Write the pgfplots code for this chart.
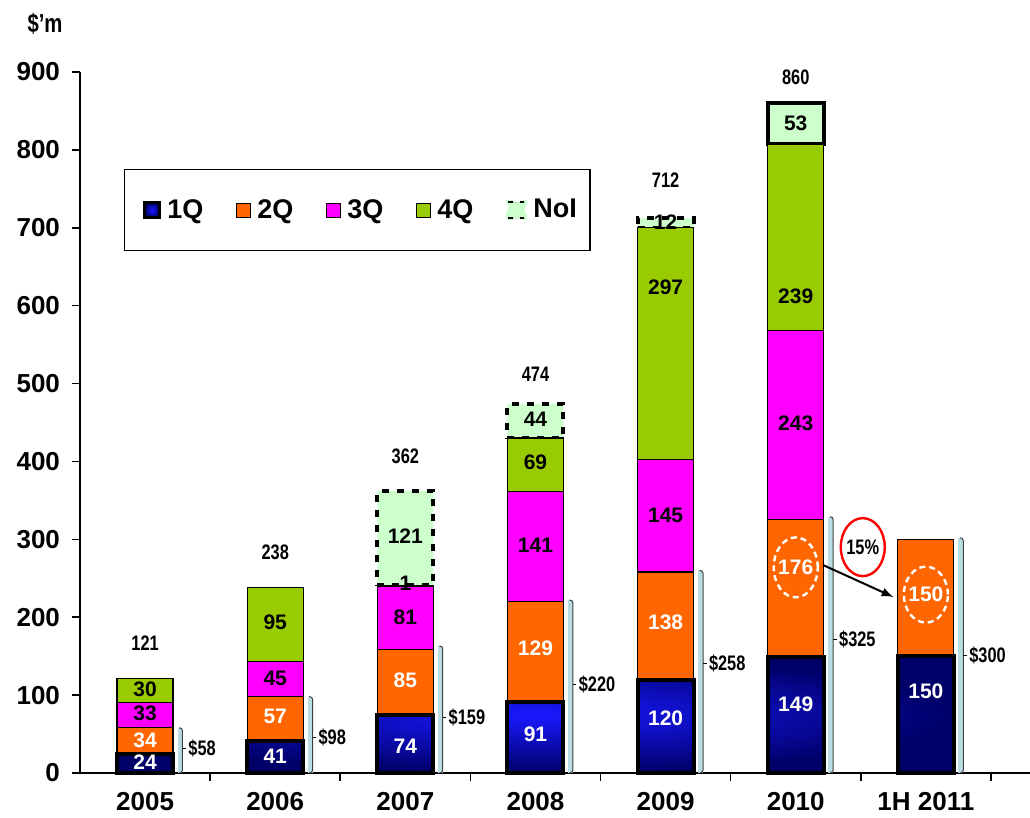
\documentclass[border=0pt]{standalone}
\usepackage{fontspec}
\setmainfont{Liberation Sans}
\newfontfamily\narrow[FakeStretch=0.78]{Liberation Sans}
\usepackage{pgfplots}
\pgfplotsset{compat=1.18}
\definecolor{qtwo}{RGB}{255,102,0}
\definecolor{qthree}{RGB}{255,0,255}
\definecolor{qfour}{RGB}{153,204,0}
\definecolor{noi}{RGB}{204,255,204}
\definecolor{qonein}{RGB}{25,25,255}
\definecolor{qoneout}{RGB}{0,0,105}
\definecolor{brk}{RGB}{184,222,228}
\tikzset{
  vw/.style={text=white, font=\bfseries\fontsize{10.5}{12}\selectfont, inner sep=0pt},
  vb/.style={text=black, font=\bfseries\fontsize{10.5}{12}\selectfont, inner sep=0pt},
  tot/.style={text=black, font=\narrow\bfseries\fontsize{10.5}{12}\selectfont, inner sep=0pt},
}
% bracket: #1 x, #2 top value, #3 label y, #4 label text
\newcommand{\brk}[4]{%
  \fill[brk] ([xshift=16.3pt]axis cs:#1,0) rectangle ([xshift=18.7pt]axis cs:#1,#2);
  \draw[black!75, line width=0.5pt, rounded corners=1.5pt] ([xshift=17pt]axis cs:#1,#2) -- ([xshift=18.7pt]axis cs:#1,#2) -- ([xshift=18.7pt]axis cs:#1,0) -- ([xshift=17pt]axis cs:#1,0);
  \draw[black, line width=0.5pt] ([xshift=18.7pt]axis cs:#1,#3) -- ([xshift=20.5pt]axis cs:#1,#3);
  \node[tot, anchor=west] at ([xshift=21.5pt]axis cs:#1,#3) {\$#4};
}
\pgfplotsset{samegeom/.style={scale only axis, width=475pt, height=350.5pt,
  xmin=-0.5, xmax=6.8, ymin=0, ymax=900, enlargelimits=false, clip=false}}
\begin{document}
\begin{tikzpicture}
\useasboundingbox (-40pt,-22.5pt) rectangle (475pt,386.5pt);
\begin{axis}[
  samegeom,
  axis lines=left, axis line style={-, line width=0.8pt},
  ybar stacked, bar width=28pt, stacked ignores zero,
  ytick={0,100,...,900},
  xtick={0.5,1.5,...,6.5}, xticklabels={},
  extra x ticks={0,1,2,3,4,5,6},
  extra x tick labels={2005,2006,2007,2008,2009,2010,1H 2011},
  extra x tick style={major tick length=0pt},
  tick align=outside, major tick length=4pt,
  tick style={black, line width=0.8pt},
  tick label style={font=\bfseries\fontsize{13}{15}\selectfont},
  /pgf/number format/assume math mode=true,
  yticklabel style={xshift=-2.5pt},
  xticklabel style={yshift=-6pt},
  legend columns=5,
  legend style={at={(axis description cs:0,1)}, anchor=north west, xshift=22pt, yshift=-48.5pt,
    draw=black, line width=0.6pt, inner xsep=3.5pt, inner ysep=12.8pt,
    font=\bfseries\fontsize{13.5}{15}\selectfont,
    nodes={inner xsep=3pt},
    /tikz/every even column/.append style={column sep=13.5pt}},
]
\addplot[draw=black, line width=2pt, inner color=qonein, outer color=qoneout,
  legend image code/.code={\path (-5.5pt,0pt); \draw[black,line width=1.6pt,inner color=qonein,outer color=qoneout] (0pt,-3.8pt) rectangle (7.6pt,3.8pt);}]
  coordinates {(0,24) (1,41) (2,74) (3,91) (4,120) (5,149) (6,150)};
\addlegendentry{1Q}
\addplot[draw=black, line width=0.6pt, fill=qtwo,
  legend image code/.code={\draw[black,line width=0.5pt,fill=qtwo] (0pt,-3.5pt) rectangle (7pt,3.5pt);}]
  coordinates {(0,34) (1,57) (2,85) (3,129) (4,138) (5,176) (6,150)};
\addlegendentry{2Q}
\addplot[draw=black, line width=0.6pt, fill=qthree,
  legend image code/.code={\draw[black,line width=0.5pt,fill=qthree] (0pt,-3.5pt) rectangle (7pt,3.5pt);}]
  coordinates {(0,33) (1,45) (2,81) (3,141) (4,145) (5,243) (6,0)};
\addlegendentry{3Q}
\addplot[draw=black, line width=0.6pt, fill=qfour,
  legend image code/.code={\draw[black,line width=0.5pt,fill=qfour] (0pt,-3.5pt) rectangle (7pt,3.5pt);}]
  coordinates {(0,30) (1,95) (2,1) (3,69) (4,297) (5,239) (6,0)};
\addlegendentry{4Q}
\addplot[draw=black, line width=2pt, dash pattern=on 3.5pt off 4pt, fill=noi,
  legend image code/.code={\fill[noi] (0pt,-4pt) rectangle (8.5pt,4pt); \draw[black,line width=1.3pt,dash pattern=on 2.2pt off 3.5pt] (0pt,4pt) -- (8.5pt,4pt) (0pt,-4pt) -- (8.5pt,-4pt);}]
  coordinates {(0,0) (1,0) (2,121) (3,44) (4,12) (5,0) (6,0)};
\addlegendentry{NoI}
\addplot[draw=black, line width=2pt, fill=noi, forget plot]
  coordinates {(0,0) (1,0) (2,0) (3,0) (4,0) (5,53) (6,0)};
\end{axis}
\begin{axis}[samegeom, hide axis]
% values inside bars
\node[vw] at (axis cs:0,14) {24};
\node[vw] at (axis cs:0,42) {34};
\node[vb] at (axis cs:0,77) {33};
\node[vb] at (axis cs:0,108) {30};
\node[vw] at (axis cs:1,22) {41};
\node[vw] at (axis cs:1,73) {57};
\node[vb] at (axis cs:1,122) {45};
\node[vb] at (axis cs:1,193) {95};
\node[vw] at (axis cs:2,34) {74};
\node[vw] at (axis cs:2,119) {85};
\node[vb] at (axis cs:2,200) {81};
\node[vb] at (axis cs:2,244) {1};
\node[vb] at (axis cs:2,304) {121};
\node[vw] at (axis cs:3,50) {91};
\node[vw] at (axis cs:3,160) {129};
\node[vb] at (axis cs:3,293) {141};
\node[vb] at (axis cs:3,399) {69};
\node[vb] at (axis cs:3,454) {44};
\node[vw] at (axis cs:4,70) {120};
\node[vw] at (axis cs:4,193) {138};
\node[vb] at (axis cs:4,331) {145};
\node[vb] at (axis cs:4,624) {297};
\node[vb] at (axis cs:4,707) {12};
\node[vw] at (axis cs:5,88) {149};
\node[vw] at (axis cs:5,264) {176};
\node[vb] at (axis cs:5,449) {243};
\node[vb] at (axis cs:5,612) {239};
\node[vb] at (axis cs:5,834) {53};
\node[vw] at (axis cs:6,105) {150};
\node[vw] at (axis cs:6,229) {150};

% totals
\node[tot] at (axis cs:0,167) {121};
\node[tot] at (axis cs:1,284) {238};
\node[tot] at (axis cs:2,406) {362};
\node[tot] at (axis cs:3,512) {474};
\node[tot] at (axis cs:4,761) {712};
\node[tot] at (axis cs:5,893) {860};

% brackets
\brk{0}{58}{32}{58}
\brk{1}{98}{46}{98}
\brk{2}{163}{71}{159}
\brk{3}{222}{113}{220}
\brk{4}{260}{141}{258}
\brk{5}{329}{171}{325}
\brk{6}{302}{151}{300}

% annotations 2010 -> 1H 2011
\draw[white, line width=1.2pt, dash pattern=on 3pt off 2pt] (axis cs:5,264) ellipse [x radius=11pt, y radius=15pt];
\draw[white, line width=1.2pt, dash pattern=on 3pt off 2pt] (axis cs:6,229) ellipse [x radius=11pt, y radius=14pt];
\draw[red, line width=1.2pt] (axis cs:5.515,290) ellipse [x radius=11pt, y radius=14.5pt];
\node[tot] at (axis cs:5.515,290) {15\%};
\draw[black, line width=1pt, -latex] (axis cs:5.21,267) -- (axis cs:5.75,226);

% unit label
\node[tot, font=\narrow\bfseries\fontsize{13}{14}\selectfont] at ([xshift=-17.5pt, yshift=24pt]rel axis cs:0,1) {\$’m};
\end{axis}
\end{tikzpicture}
\end{document}
